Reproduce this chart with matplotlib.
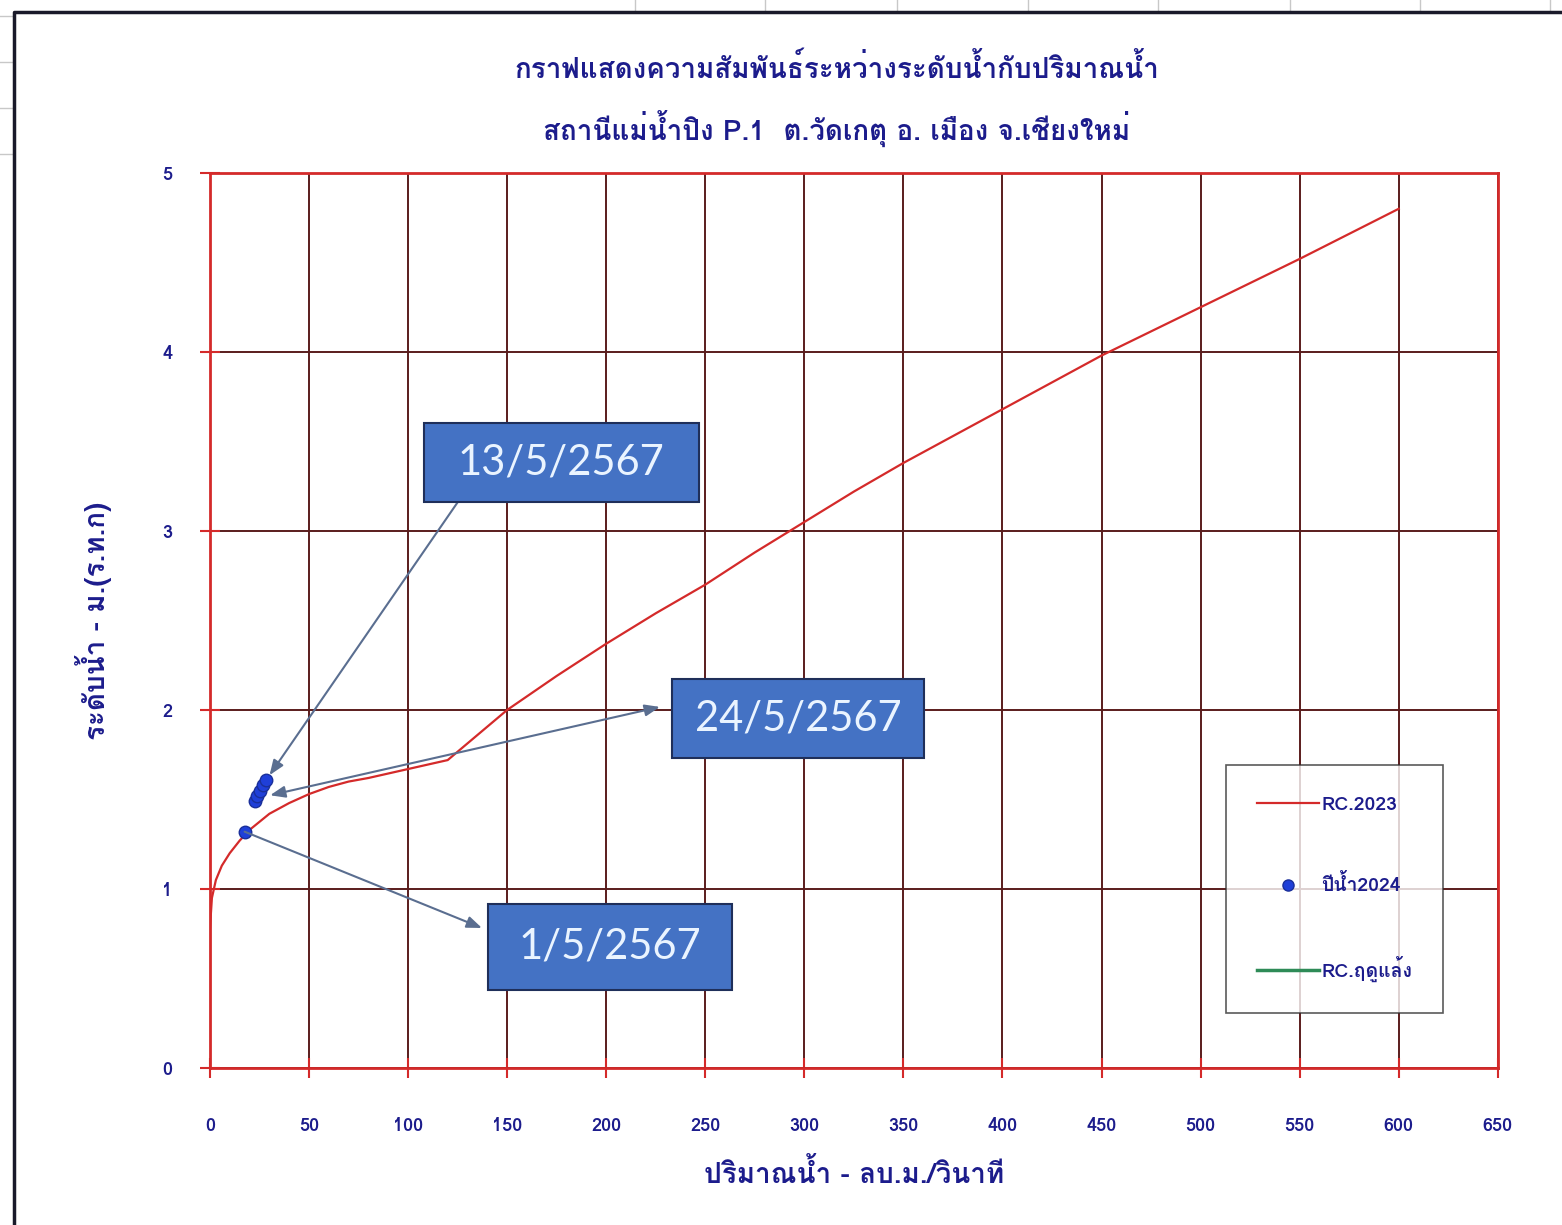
import matplotlib
matplotlib.use('Agg')
import matplotlib.pyplot as plt
from matplotlib.patches import Rectangle
from matplotlib.lines import Line2D

plt.rcParams['font.family'] = ['Loma', 'DejaVu Sans']

# rating curve RC.2023 (discharge m3/s, stage m)
rc_q = [0, 1, 3, 6, 10, 15, 20, 30, 40, 50, 60, 70, 80, 100, 120, 135, 150,
        175, 200, 225, 250, 275, 300, 325, 350, 400, 450, 500, 550, 600]
rc_h = [0.78, 0.95, 1.05, 1.13, 1.2, 1.27, 1.33, 1.42, 1.48, 1.53, 1.57, 1.6,
        1.62, 1.67, 1.72, 1.86, 2.0, 2.19, 2.37, 2.54, 2.7, 2.88, 3.05, 3.22,
        3.38, 3.68, 3.98, 4.25, 4.52, 4.8]

# measurements 2024
obs_q = [17.5, 22.5, 24.0, 25.5, 27.0, 28.5]
obs_h = [1.32, 1.49, 1.52, 1.55, 1.58, 1.61]

# dry season curve (no data shown)
dry_q = []
dry_h = []

xticks = list(range(0, 651, 50))
yticks = [0, 1, 2, 3, 4, 5]

title1 = "กราฟแสดงความสัมพันธ์ระหว่างระดับน้ำกับปริมาณน้ำ"
title2 = "สถานีแม่น้ำปิง P.1  ต.วัดเกตุ อ. เมือง จ.เชียงใหม่"
xlab = "ปริมาณน้ำ - ลบ.ม./วินาที"
ylab = "ระดับน้ำ - ม.(ร.ท.ก)"

navy = '#1c1c8c'
red = '#d42a2a'
grid_c = '#5a1c1c'

fig = plt.figure(figsize=(15.62, 12.25), dpi=100)

# spreadsheet background lines and chart frame
for yy in [0.987, 0.949, 0.912, 0.874]:
    fig.add_artist(Line2D([0, 0.009], [yy, yy], color='#c8c8c8', lw=1))
for xx in [0.4065, 0.4897, 0.5742, 0.6581, 0.7414, 0.8258, 0.9091, 0.9923]:
    fig.add_artist(Line2D([xx, xx], [0.991, 1], color='#c8c8c8', lw=1))
fig.add_artist(Line2D([0.009, 0.009, 1], [0, 0.990, 0.990], color='#1a1a2a', lw=2.5))

ax = fig.add_axes([0.1344, 0.1282, 0.8245, 0.7306])

ax.plot(rc_q, rc_h, color=red, lw=1.6, label='RC.2023', zorder=3)
ax.plot(obs_q, obs_h, 'o', color='#1f3fd8', mec='#1a2f9a', ms=9, lw=0,
        label='ปีน้ำ2024', zorder=4)
ax.plot(dry_q, dry_h, color='#2e8b57', lw=2.5, label='RC.ฤดูแล้ง')

ax.set_xlim(0, 650)
ax.set_ylim(0, 5)
ax.set_xticks(xticks)
ax.set_yticks(yticks)
ax.grid(True, color=grid_c, lw=1.4, zorder=1)
ax.set_axisbelow(True)
for s in ax.spines.values():
    s.set_color(red)
    s.set_linewidth(2)
ax.tick_params(direction='inout', length=14, width=1.5, color=red,
               labelcolor=navy, labelsize=13)
ax.tick_params(axis='x', pad=28)
ax.tick_params(axis='y', pad=20)
for t in ax.get_xticklabels() + ax.get_yticklabels():
    t.set_fontweight('bold')

ax.set_xlabel(xlab, fontsize=20, color=navy, fontweight='bold', labelpad=17)
ax.set_ylabel(ylab, fontsize=20, color=navy, fontweight='bold', labelpad=36)

fig.text(0.5355, 0.945, title1, ha='center', va='center', fontsize=20,
         color=navy, fontweight='bold')
fig.text(0.5355, 0.894, title2, ha='center', va='center', fontsize=20,
         color=navy, fontweight='bold')

# callout boxes
arrow_c = '#5a6e90'
boxes = [
    ("13/5/2567", 0.1661, 0.6324, 0.2136, 0.0883),
    ("24/5/2567", 0.3587, 0.3464, 0.1956, 0.0882),
    ("1/5/2567", 0.2158, 0.0872, 0.1895, 0.0960),
]
for txt, bx, by, bw, bh in boxes:
    ax.add_patch(Rectangle((bx, by), bw, bh, transform=ax.transAxes,
                           facecolor='#4472c4', edgecolor='#1f2f5a', lw=1.5,
                           zorder=6, clip_on=False))
    ax.text(bx + bw / 2, by + bh / 2, txt, transform=ax.transAxes,
            ha='center', va='center', fontsize=30, color='#eaf4ff',
            family=['Lato', 'DejaVu Sans'], zorder=7)

ax.annotate('', xy=(obs_q[-1], obs_h[-1]), xycoords='data',
            xytext=(0.1925, 0.6324), textcoords='axes fraction',
            arrowprops=dict(arrowstyle='-|>,head_length=0.9,head_width=0.35',
                            color=arrow_c, lw=1.5, shrinkA=0, shrinkB=4),
            zorder=5)
ax.annotate('', xy=(0.3494, 0.4034), xycoords='axes fraction',
            xytext=(obs_q[2] + 5, obs_h[2]), textcoords='data',
            arrowprops=dict(arrowstyle='<|-|>,head_length=0.9,head_width=0.35',
                            color=arrow_c, lw=1.5, shrinkA=2, shrinkB=0),
            zorder=5)
ax.annotate('', xy=(0.2112, 0.1564), xycoords='axes fraction',
            xytext=(obs_q[0], obs_h[0]), textcoords='data',
            arrowprops=dict(arrowstyle='-|>,head_length=0.9,head_width=0.35',
                            color=arrow_c, lw=1.5, shrinkA=0, shrinkB=0),
            zorder=5)

leg = ax.legend(loc='lower left', bbox_to_anchor=(0.789, 0.0615),
                borderaxespad=0, frameon=True, fancybox=False,
                labelspacing=3.1, handlelength=3.2, handletextpad=0.1,
                borderpad=1.6, prop={'size': 14, 'weight': 'bold'})
leg.get_frame().set_edgecolor('#303030')
leg.get_frame().set_linewidth(1.2)
for t in leg.get_texts():
    t.set_color(navy)
leg.legend_handles[1].set_markersize(8)

fig.savefig('out.png', dpi=100)
